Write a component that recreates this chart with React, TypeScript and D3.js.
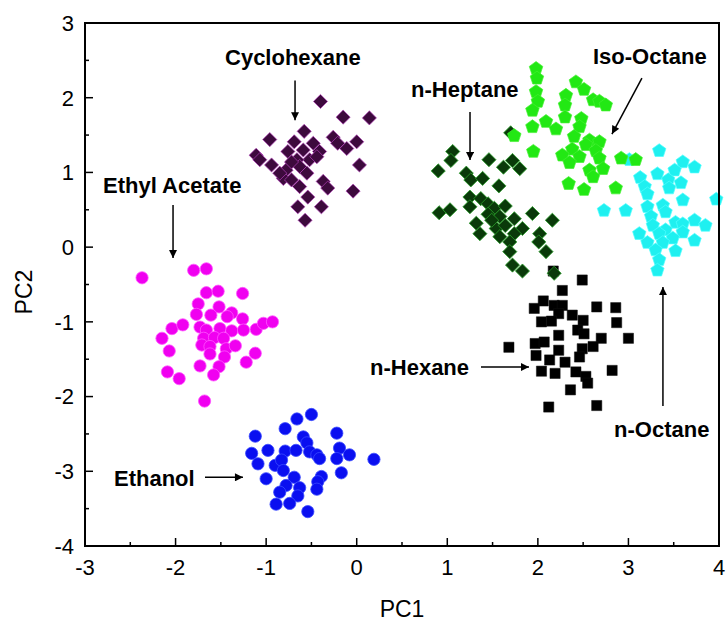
import React from "react";
import * as d3 from "d3";

type Pt = [number, number];

// ---- data (PC1, PC2) ----
const ethanol: Pt[] = [
  [-0.5, -2.24], [-0.66, -2.3], [-0.79, -2.43], [-1.12, -2.53], [-0.59, -2.54], [-0.22, -2.49],
  [-0.55, -2.62], [-1.16, -2.76], [-0.98, -2.72], [-0.79, -2.73], [-0.67, -2.72], [-0.52, -2.74],
  [-0.44, -2.78], [-0.41, -2.83], [-0.19, -2.69], [-0.08, -2.78], [-0.22, -2.83], [0.19, -2.84],
  [-1.09, -2.9], [-0.9, -2.92], [-0.83, -2.85], [-0.81, -2.99], [-0.17, -3.02], [-0.39, -3.07],
  [-1.0, -3.1], [-0.69, -3.08], [-0.43, -3.14], [-0.78, -3.19], [-0.63, -3.22], [-0.85, -3.28],
  [-0.44, -3.24], [-0.65, -3.33], [-0.74, -3.43], [-0.89, -3.44], [-0.54, -3.54],
];

const ethylAcetate: Pt[] = [
  [-2.37, -0.41], [-1.8, -0.31], [-1.66, -0.29], [-1.66, -0.61], [-1.53, -0.59], [-1.26, -0.62],
  [-1.75, -0.76], [-1.52, -0.8], [-1.77, -0.9], [-1.61, -0.91], [-1.38, -0.88], [-1.43, -0.93],
  [-1.26, -0.96], [-2.04, -1.09], [-1.92, -1.04], [-1.73, -1.07], [-1.66, -1.11], [-1.51, -1.09],
  [-1.38, -1.12], [-1.25, -1.11], [-1.11, -1.1], [-1.03, -1.02], [-0.93, -1.0], [-2.15, -1.22],
  [-1.69, -1.22], [-1.57, -1.21], [-1.47, -1.22], [-1.71, -1.31], [-1.62, -1.33], [-1.44, -1.36],
  [-1.34, -1.32], [-2.07, -1.39], [-1.62, -1.43], [-1.46, -1.47], [-1.12, -1.42], [-1.22, -1.54],
  [-1.73, -1.59], [-1.52, -1.6], [-2.09, -1.67], [-1.58, -1.71], [-1.96, -1.76], [-1.68, -2.06],
];

const cyclohexane: Pt[] = [
  [-0.4, 1.95], [-0.15, 1.74], [0.14, 1.73], [-0.58, 1.55], [-0.96, 1.44], [-0.69, 1.41],
  [-0.26, 1.47], [-0.21, 1.39], [0.0, 1.41], [-0.11, 1.32], [-0.48, 1.39], [-0.59, 1.3],
  [-1.11, 1.23], [-1.07, 1.17], [-0.76, 1.28], [-0.41, 1.28], [-0.52, 1.17], [-0.66, 1.17],
  [-0.94, 1.1], [0.03, 1.1], [-0.78, 1.03], [-0.63, 1.08], [-0.81, 0.92], [-0.72, 0.9],
  [-0.37, 0.88], [-0.63, 0.81], [-0.54, 0.67], [-0.04, 0.75], [-0.32, 0.79], [-0.65, 0.54],
  [-0.39, 0.54], [-0.57, 0.36], [-0.72, 1.14], [-0.55, 0.99], [-0.85, 0.99], [-0.44, 1.21],
];

const nHexane: Pt[] = [
  [2.17, -0.32], [2.49, -0.44], [2.27, -0.58], [2.06, -0.72], [1.96, -0.82], [2.18, -0.78],
  [2.27, -0.78], [2.65, -0.8], [2.86, -0.81], [2.23, -0.89], [2.38, -0.91], [2.04, -1.0],
  [2.15, -0.99], [2.5, -0.98], [2.87, -1.01], [2.44, -1.11], [2.51, -1.16], [2.23, -1.18],
  [2.7, -1.22], [3.0, -1.22], [1.97, -1.29], [2.07, -1.27], [2.61, -1.33], [2.49, -1.36],
  [1.68, -1.34], [2.23, -1.38], [1.98, -1.45], [2.46, -1.47], [2.13, -1.51], [2.3, -1.54],
  [2.04, -1.66], [2.19, -1.69], [2.42, -1.67], [2.53, -1.73], [2.55, -1.82], [2.82, -1.65],
  [2.36, -1.91], [2.12, -2.14], [2.65, -2.12],
];

const nOctane: Pt[] = [
  [3.34, 1.29], [3.6, 1.14], [3.73, 1.07], [3.51, 1.03], [3.13, 0.93], [3.32, 0.98],
  [3.44, 0.9], [3.58, 0.86], [3.18, 0.81], [3.21, 0.71], [3.45, 0.79], [3.97, 0.64],
  [3.6, 0.63], [2.73, 0.49], [2.97, 0.49], [3.21, 0.54], [3.38, 0.56], [3.41, 0.47],
  [3.25, 0.41], [3.73, 0.36], [3.52, 0.33], [3.6, 0.31], [3.85, 0.29], [3.27, 0.29],
  [3.41, 0.23], [3.34, 0.18], [3.12, 0.18], [3.6, 0.2], [3.73, 0.09], [3.21, 0.06],
  [3.49, 0.12], [3.38, 0.06], [3.52, -0.05], [3.3, -0.04], [3.34, -0.17], [3.32, -0.31],
  [3.01, 1.17],
];

const nHeptane: Pt[] = [
  [1.7, 1.53], [1.06, 1.28], [1.04, 1.16], [0.9, 1.02], [1.46, 1.17], [1.72, 1.16],
  [1.62, 1.07], [1.8, 1.05], [1.21, 0.99], [1.26, 0.9], [1.39, 0.92], [1.57, 0.82],
  [0.91, 0.46], [1.03, 0.5], [1.25, 0.67], [1.25, 0.54], [1.37, 0.65], [1.45, 0.58],
  [1.52, 0.52], [1.64, 0.55], [1.74, 0.38], [1.45, 0.44], [1.58, 0.41], [1.36, 0.18],
  [1.54, 0.25], [1.64, 0.29], [1.83, 0.25], [1.94, 0.45], [2.16, 0.36], [1.74, 0.18],
  [2.02, 0.18], [1.58, 0.14], [1.69, 0.07], [2.01, 0.07], [1.69, -0.06], [2.09, -0.06],
  [1.72, -0.24], [1.83, -0.32], [2.18, -0.35], [1.32, 0.32], [1.49, 0.36],
];

const isoOctane: Pt[] = [
  [1.98, 2.39], [1.99, 2.26], [2.42, 2.21], [2.51, 2.11], [1.98, 2.08], [2.31, 2.03],
  [2.0, 1.95], [2.61, 1.97], [2.68, 1.95], [2.75, 1.9], [2.3, 1.9], [1.94, 1.83],
  [2.48, 1.72], [2.3, 1.74], [2.09, 1.68], [1.94, 1.61], [2.2, 1.58], [2.46, 1.61],
  [1.74, 1.49], [2.4, 1.48], [2.57, 1.43], [2.68, 1.41], [2.53, 1.37], [2.38, 1.31],
  [2.64, 1.29], [1.95, 1.28], [2.27, 1.23], [2.46, 1.21], [2.68, 1.19], [2.92, 1.19],
  [3.08, 1.17], [2.35, 1.13], [2.57, 1.03], [2.72, 1.05], [2.61, 0.94], [2.34, 0.85],
  [2.51, 0.77], [2.86, 0.79],
];

const xTicks = [-3, -2, -1, 0, 1, 2, 3, 4];
const yTicks = [-4, -3, -2, -1, 0, 1, 2, 3];

// annotations: label, text anchor point, arrow from, arrow to (data units)
const labels = ["Cyclohexane", "Ethyl Acetate", "n-Heptane", "Iso-Octane", "n-Hexane", "n-Octane", "Ethanol"];
const labelPos: Pt[] = [[-1.454, 2.437], [-2.801, 0.724], [0.6, 2.009], [2.609, 2.451], [0.147, -1.712], [2.841, -2.542], [-2.68, -3.198]];
const arrowFrom: Pt[] = [[-0.681, 2.232], [-2.028, 0.564], [1.251, 1.808], [3.149, 2.263], [1.372, -1.605], [3.381, -2.127], [-1.675, -3.081]];
const arrowTo: Pt[] = [[-0.681, 1.7], [-2.028, -0.146], [1.251, 1.165], [2.818, 1.514], [1.902, -1.605], [3.381, -0.535], [-1.256, -3.081]];

// ---- symbols ----
const symbolPentagon = {
  draw(ctx: any, size: number) {
    const r = Math.sqrt(size / 2.378);
    for (let i = 0; i < 5; i++) {
      const a = -Math.PI / 2 + (i * 2 * Math.PI) / 5;
      const px = r * Math.cos(a), py = r * Math.sin(a);
      if (i === 0) ctx.moveTo(px, py); else ctx.lineTo(px, py);
    }
    ctx.closePath();
  },
};
const symbolRotSquare = {
  draw(ctx: any, size: number) {
    const r = Math.sqrt(size / 2);
    ctx.moveTo(0, -r);
    ctx.lineTo(r, 0);
    ctx.lineTo(0, r);
    ctx.lineTo(-r, 0);
    ctx.closePath();
  },
};

const W = 728, H = 622;
const x = d3.scaleLinear().domain([-3, 4]).range([85, 719]);
const y = d3.scaleLinear().domain([-4, 3]).range([546, 23]);

const series = [
  { data: ethanol, type: d3.symbolCircle, size: 118, fill: "#0a0ff0", stroke: "#3a4aff", sw: 0.8 },
  { data: ethylAcetate, type: d3.symbolCircle, size: 118, fill: "#f000f0", stroke: "#ff55ff", sw: 0.8 },
  { data: cyclohexane, type: symbolRotSquare, size: 100, fill: "#3d0a3d", stroke: "#b040b8", sw: 0.7 },
  { data: nHexane, type: d3.symbolSquare, size: 104, fill: "#000000", stroke: "#111111", sw: 0.5 },
  { data: nOctane, type: symbolPentagon, size: 118, fill: "#1ff0f0", stroke: "#50ffff", sw: 0.7 },
  { data: nHeptane, type: symbolRotSquare, size: 100, fill: "#0a3a0a", stroke: "#2aa02a", sw: 0.8 },
  { data: isoOctane, type: symbolPentagon, size: 120, fill: "#22e814", stroke: "#44f030", sw: 0.7 },
];

const FONT = "'Liberation Sans', Arial, Helvetica, sans-serif";

export default function App() {
  const minorX = d3.range(-3, 4.001, 0.5).filter((v) => Math.abs(v % 1) > 0.01);
  const minorY = d3.range(-4, 3.001, 0.5).filter((v) => Math.abs(v % 1) > 0.01);
  const [x0, x1] = x.range();
  const [y0, y1] = y.range();
  return (
    <svg width={W} height={H} style={{ position: "absolute", left: 0, top: 0, background: "#fff" }} fontFamily={FONT}>
      <defs>
        <marker id="ah" viewBox="0 0 10 10" refX="10" refY="5" markerWidth="11" markerHeight="8" markerUnits="userSpaceOnUse" orient="auto">
          <path d="M0,0 L10,5 L0,10 Z" fill="#000" />
        </marker>
      </defs>
      <rect x={0} y={0} width={W} height={H} fill="#fff" />
      {series.map((s, si) => {
        const sym = d3.symbol().type(s.type as any).size(s.size);
        const p = sym() as string;
        return (
          <g key={si}>
            {s.data.map((d, i) => (
              <path key={i} d={p} transform={`translate(${x(d[0])},${y(d[1])})`} fill={s.fill} stroke={s.stroke} strokeWidth={s.sw} />
            ))}
          </g>
        );
      })}
      {/* frame */}
      <rect x={x0} y={y1} width={x1 - x0} height={y0 - y1} fill="none" stroke="#000" strokeWidth={2} />
      {/* x ticks */}
      {xTicks.map((t) => (
        <g key={"xt" + t}>
          <line x1={x(t)} x2={x(t)} y1={y0} y2={y0 - 8} stroke="#000" strokeWidth={1.5} />
          <text x={x(t)} y={y0 + 29} fontSize={22} textAnchor="middle" fill="#000">{t}</text>
        </g>
      ))}
      {minorX.map((t) => (
        <line key={"xm" + t} x1={x(t)} x2={x(t)} y1={y0} y2={y0 - 4} stroke="#000" strokeWidth={1.5} />
      ))}
      {yTicks.map((t) => (
        <g key={"yt" + t}>
          <line x1={x0} x2={x0 + 8} y1={y(t)} y2={y(t)} stroke="#000" strokeWidth={1.5} />
          <text x={x0 - 11} y={y(t)} dy="0.36em" fontSize={22} textAnchor="end" fill="#000">{t}</text>
        </g>
      ))}
      {minorY.map((t) => (
        <line key={"ym" + t} x1={x0} x2={x0 + 4} y1={y(t)} y2={y(t)} stroke="#000" strokeWidth={1.5} />
      ))}
      {/* axis titles */}
      <text x={(x0 + x1) / 2} y={617} fontSize={23} textAnchor="middle" fill="#000">PC1</text>
      <text transform={`translate(32,${292}) rotate(-90)`} fontSize={23} textAnchor="middle" fill="#000">PC2</text>
      {/* annotations */}
      {labels.map((l, i) => (
        <g key={"an" + i}>
          <text x={x(labelPos[i][0])} y={y(labelPos[i][1])} fontSize={22} fontWeight="bold" fill="#000">{l}</text>
          <line x1={x(arrowFrom[i][0])} y1={y(arrowFrom[i][1])} x2={x(arrowTo[i][0])} y2={y(arrowTo[i][1])} stroke="#000" strokeWidth={1.5} markerEnd="url(#ah)" />
        </g>
      ))}
    </svg>
  );
}
